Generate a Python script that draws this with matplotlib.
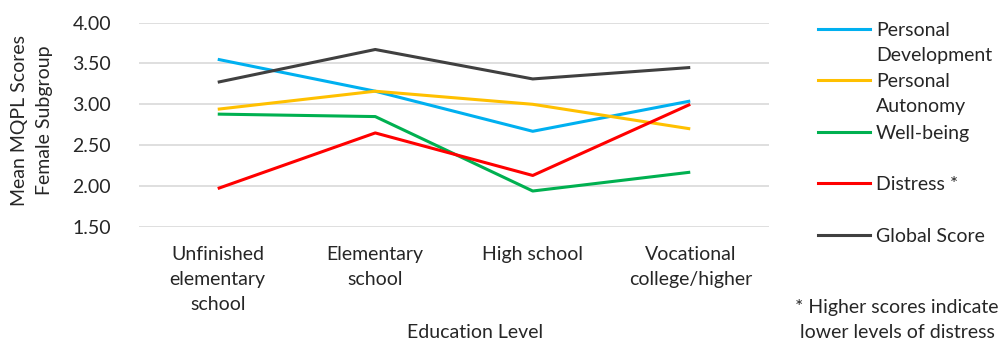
import matplotlib.pyplot as plt
from matplotlib.lines import Line2D

plt.rcParams['font.family'] = ['Lato', 'DejaVu Sans']

# Data
categories = ['Unfinished\nelementary\nschool', 'Elementary\nschool', 'High school', 'Vocational\ncollege/higher']
series_names = ['Personal\nDevelopment', 'Personal\nAutonomy', 'Well-being', 'Distress *', 'Global Score']
personal_development = [3.55, 3.16, 2.67, 3.04]
personal_autonomy = [2.94, 3.16, 3.00, 2.70]
well_being = [2.88, 2.85, 1.94, 2.17]
distress = [1.97, 2.65, 2.13, 3.00]
global_score = [3.27, 3.67, 3.31, 3.45]
yticks = [1.5, 2.0, 2.5, 3.0, 3.5, 4.0]

colors = ['#00B0F0', '#FFC000', '#00B050', '#FF0000', '#404040']
all_series = [personal_development, personal_autonomy, well_being, distress, global_score]

FS = 14
TXT = '#262626'
LSP = 1.55

fig = plt.figure(figsize=(10.02, 3.42), dpi=100)
ax = fig.add_axes([139 / 1002, 1 - 227 / 342, 630 / 1002, 204.5 / 342])

x = list(range(len(categories)))
for vals, col, name in zip(all_series, colors, series_names):
    ax.plot(x, vals, color=col, linewidth=2.2, label=name, solid_capstyle='butt', zorder=3)

ax.set_xlim(-0.5, len(categories) - 0.5)
ax.set_ylim(1.5, 4.0)
ax.set_yticks(yticks)
ax.set_yticklabels([f'{v:.2f}' for v in yticks], fontsize=FS, color=TXT)
ax.set_xticks(x)
ax.set_xticklabels(categories, fontsize=FS, color=TXT, linespacing=LSP)
ax.tick_params(axis='both', length=0)
ax.tick_params(axis='y', pad=20)
ax.tick_params(axis='x', pad=14)
ax.grid(axis='y', color='#D9D9D9', linewidth=1.2, zorder=0)
for s in ax.spines.values():
    s.set_visible(False)

fig.text(32 / 1002, 1 - 120 / 342, 'Mean MQPL Scores\nFemale Subgroup', rotation=90,
         ha='center', va='center', fontsize=FS, color=TXT, linespacing=LSP)
fig.text(475 / 1002, 1 - 333 / 342, 'Education Level', ha='center', va='center',
         fontsize=FS, color=TXT)
fig.text(897 / 1002, 1 - 320 / 342, '* Higher scores indicate\nlower levels of distress',
         ha='center', va='center', fontsize=FS, color=TXT, linespacing=LSP)

# manual legend
legend_y = [29, 80, 132, 183, 235]
for ly, col, name in zip(legend_y, colors, series_names):
    yf = 1 - ly / 342
    fig.add_artist(Line2D([818 / 1002, 870 / 1002], [yf, yf], color=col, linewidth=2.2))
    fig.text(876 / 1002, 1 - (ly - 7) / 342, name, ha='left', va='top',
             fontsize=FS, color=TXT, linespacing=LSP)

fig.savefig('out.png', dpi=100)
